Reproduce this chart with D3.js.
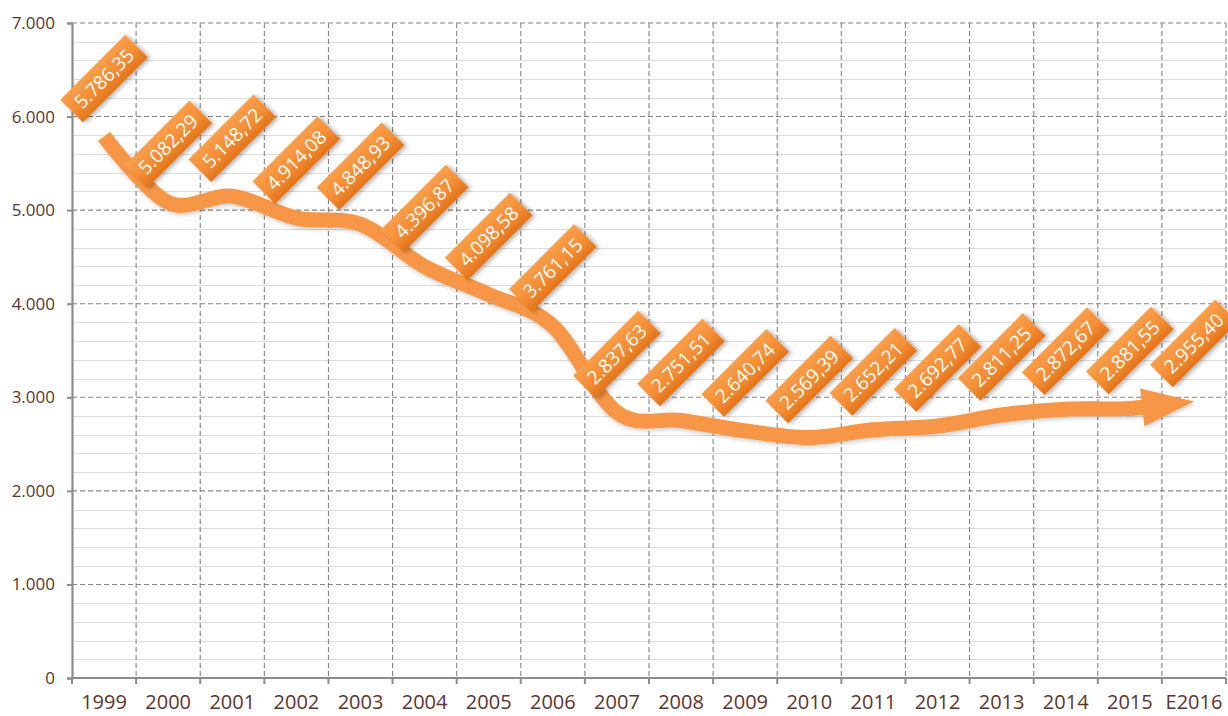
<!DOCTYPE html>
<html><head><meta charset="utf-8">
<script src="https://cdn.jsdelivr.net/npm/d3@7"></script>
<style>
html,body{margin:0;padding:0;background:#fff;}
svg{display:block;font-family:"Open Sans",sans-serif;}
</style></head>
<body>
<svg id="chart" width="1228" height="716"></svg>
<script>
const categories = ["1999","2000","2001","2002","2003","2004","2005","2006","2007","2008","2009","2010","2011","2012","2013","2014","2015","E2016"];
const values = [5786.35,5082.29,5148.72,4914.08,4848.93,4396.87,4098.58,3761.15,2837.63,2751.51,2640.74,2569.39,2652.21,2692.77,2811.25,2872.67,2881.55,2955.40];
const yMajorTicks = [0,1000,2000,3000,4000,5000,6000,7000];
const yMinorStep = 200;

const loc = d3.formatLocale({decimal:",",thousands:".",grouping:[3],currency:["",""]});
const fmtVal = loc.format(",.2f");
const fmtTick = loc.format(",.0f");

const svg = d3.select("#chart");
const W = 1228, H = 716;
const m = {left:72, right:2, top:23, bottom:38};
const x = d3.scaleBand().domain(categories).range([m.left, W - m.right]).padding(0);
const y = d3.scaleLinear().domain([0,7000]).range([H - m.bottom, m.top]);
const textCol = "#5b3530";

const defs = svg.append("defs");
const grad = defs.append("linearGradient").attr("id","lblGrad").attr("x1",0).attr("y1",0).attr("x2",0).attr("y2",1);
grad.append("stop").attr("offset","0%").attr("stop-color","#fa9e4a");
grad.append("stop").attr("offset","55%").attr("stop-color","#f58e36");
grad.append("stop").attr("offset","100%").attr("stop-color","#e2741a");
const sh = defs.append("filter").attr("id","shadow").attr("x","-30%").attr("y","-30%").attr("width","160%").attr("height","160%");
sh.append("feDropShadow").attr("dx",1.5).attr("dy",2.5).attr("stdDeviation",2).attr("flood-color","#000").attr("flood-opacity",0.3);
const sh2 = defs.append("filter").attr("id","lshadow").attr("x","-10%").attr("y","-10%").attr("width","120%").attr("height","130%");
sh2.append("feDropShadow").attr("dx",1).attr("dy",2).attr("stdDeviation",2).attr("flood-color","#000").attr("flood-opacity",0.2);

// minor gridlines
const minor = d3.range(0, 7000 + 1, yMinorStep).filter(v => v % 1000 !== 0);
svg.append("g").selectAll("line").data(minor).join("line")
  .attr("x1", m.left).attr("x2", W - m.right)
  .attr("y1", d => Math.round(y(d)) + 0.5).attr("y2", d => Math.round(y(d)) + 0.5)
  .attr("stroke","#dcdcdc").attr("stroke-width",1.2);

// vertical dashed gridlines at band boundaries
const bounds = categories.map(c => x(c) + x.bandwidth());
svg.append("g").selectAll("line").data(bounds).join("line")
  .attr("x1", d => d).attr("x2", d => d)
  .attr("y1", y(7000)).attr("y2", y(0))
  .attr("stroke","#858585").attr("stroke-width",1.1).attr("stroke-dasharray","5,3");

// major horizontal dashed gridlines
svg.append("g").selectAll("line").data(yMajorTicks.filter(v => v > 0)).join("line")
  .attr("x1", m.left).attr("x2", W - m.right)
  .attr("y1", d => y(d)).attr("y2", d => y(d))
  .attr("stroke","#858585").attr("stroke-width",1.1).attr("stroke-dasharray","5,3");

// axes
const yAxis = svg.append("g").attr("transform",`translate(${m.left},0)`)
  .call(d3.axisLeft(y).tickValues(yMajorTicks).tickFormat(fmtTick).tickSize(5).tickPadding(12));
yAxis.select(".domain").attr("stroke","#8c8c8c").attr("stroke-width",2.2);
yAxis.selectAll(".tick line").attr("stroke","#8c8c8c").attr("stroke-width",2);
yAxis.selectAll(".tick text").attr("fill",textCol).attr("font-size",17).attr("font-family","'Open Sans',sans-serif");

const xAxis = svg.append("g").attr("transform",`translate(0,${y(0)})`)
  .call(d3.axisBottom(x).tickSize(0).tickPadding(17));
xAxis.select(".domain").remove();
xAxis.selectAll(".tick text").attr("fill",textCol).attr("font-size",20).attr("font-family","'Open Sans',sans-serif");
svg.append("line").attr("x1", m.left).attr("x2", W - m.right).attr("y1", y(0)).attr("y2", y(0))
  .attr("stroke","#8c8c8c").attr("stroke-width",2);
svg.append("g").selectAll("line").data([m.left].concat(bounds)).join("line")
  .attr("x1", d => d).attr("x2", d => d).attr("y1", y(0)).attr("y2", y(0) + 6)
  .attr("stroke","#8c8c8c").attr("stroke-width",2);

// smoothed arrow line
const pts = categories.map((c,i) => [x(c) + x.bandwidth()/2, y(values[i])]);
const lineGen = d3.line().curve(d3.curveCardinal.tension(0));
const lineG = svg.append("g").attr("filter","url(#lshadow)");
const path = lineG.append("path").attr("d", lineGen(pts))
  .attr("fill","none").attr("stroke","#f79646").attr("stroke-width",15).attr("stroke-linecap","butt");
const L = path.node().getTotalLength();
const headLen = 52, headHalf = 19;
path.attr("stroke-dasharray", `${L - headLen + 4} ${L}`);
const base = path.node().getPointAtLength(L - headLen);
const tip = pts[pts.length - 1];
const dx = tip[0] - base.x, dy = tip[1] - base.y, dl = Math.hypot(dx, dy);
const nx = -dy / dl, ny = dx / dl;
lineG.append("path")
  .attr("d", `M${base.x + nx*headHalf},${base.y + ny*headHalf}L${tip[0]},${tip[1]}L${base.x - nx*headHalf},${base.y - ny*headHalf}Z`)
  .attr("fill","#f79646");

// rotated data labels
const bw = 92, bh = 32, off = 58;
const lbl = svg.append("g").selectAll("g").data(pts).join("g")
  .attr("transform", d => `translate(${d[0]},${d[1] - off}) rotate(-45)`);
lbl.append("rect").attr("x",-bw/2).attr("y",-bh/2).attr("width",bw).attr("height",bh)
  .attr("fill","url(#lblGrad)").attr("filter","url(#shadow)");
lbl.append("text").attr("text-anchor","middle").attr("dy","0.35em")
  .attr("fill","#fff").attr("font-size",19).attr("font-family","'Open Sans',sans-serif")
  .text((d,i) => fmtVal(values[i]));
</script>
</body></html>
